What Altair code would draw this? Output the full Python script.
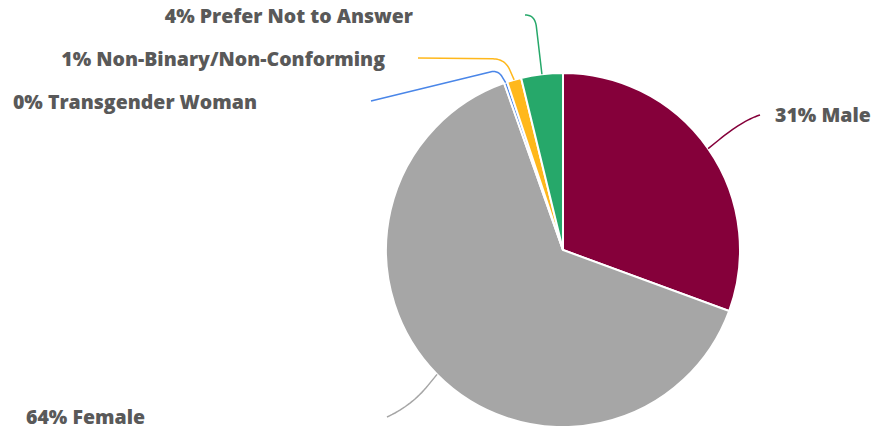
import math
import altair as alt
import pandas as pd

# ---- data ----
categories = ["Male", "Female", "Transgender Woman", "Non-Binary/Non-Conforming", "Prefer Not to Answer"]
values = [30.6, 64.0, 0.3, 1.3, 3.8]
pct_labels = ["31%", "64%", "0%", "1%", "4%"]
colors = ["#85003A", "#A6A6A6", "#4A86E8", "#FFB81C", "#26A86A"]

# ---- layout (page pixel coordinates) ----
OFF = 8
CX, CY, R = 563, 250, 177
label_pos = [(775, 116, "left"), (145, 418, "right"), (257, 103, "right"), (385, 60, "right"), (413, 17, "right")]
elbows = [(742, 121, 30), (412, 405, 25), (498, 70, 8), (505, 59, 12), (535, 15, 12)]
line_ends = [(760, 115), (387, 417), (371, 101), (418, 58), (525, 15)]

total = sum(values)
arc_df = pd.DataFrame({"category": categories, "value": values, "order": list(range(len(values)))})

# leader lines from slice mid-angles
rows = []
cum = 0.0
for i, (cat, v) in enumerate(zip(categories, values)):
    mid = (cum + v / 2) / total * 2 * math.pi
    cum += v
    S = (CX + R * math.sin(mid), CY - R * math.cos(mid))
    px, py, r = elbows[i]
    E = line_ends[i]
    d1 = math.hypot(S[0] - px, S[1] - py)
    d2 = math.hypot(E[0] - px, E[1] - py)
    r1 = min(r, d1 * 0.95)
    r2 = min(r, d2 * 0.95)
    A = (px + (S[0] - px) / d1 * r1, py + (S[1] - py) / d1 * r1)
    B = (px + (E[0] - px) / d2 * r2, py + (E[1] - py) / d2 * r2)
    pts = [S, A]
    n = 16
    for k in range(1, n + 1):
        t = k / n
        x = (1 - t) ** 2 * A[0] + 2 * (1 - t) * t * px + t ** 2 * B[0]
        y = (1 - t) ** 2 * A[1] + 2 * (1 - t) * t * py + t ** 2 * B[1]
        pts.append((x, y))
    pts.append(E)
    for j, (x, y) in enumerate(pts):
        rows.append({"category": cat, "i": j, "x": x - OFF, "y": y - OFF})
line_df = pd.DataFrame(rows)

text_df = pd.DataFrame({
    "text": [f"{p} {c}" for p, c in zip(pct_labels, categories)],
    "x": [p[0] - OFF for p in label_pos],
    "y": [p[1] - OFF for p in label_pos],
    "align": [p[2] for p in label_pos],
})

color_scale = alt.Scale(domain=categories, range=colors)

arcs = alt.Chart(arc_df).mark_arc(radius=R, stroke="white", strokeWidth=2).encode(
    theta=alt.Theta("value:Q", stack=True),
    order=alt.Order("order:Q"),
    color=alt.Color("category:N", scale=color_scale, legend=None),
    x=alt.value(CX - OFF),
    y=alt.value(CY - OFF),
)

lines = alt.Chart(line_df).mark_line(strokeWidth=1.5).encode(
    x=alt.X("x:Q", scale=None),
    y=alt.Y("y:Q", scale=None),
    order=alt.Order("i:Q"),
    detail="category:N",
    color=alt.Color("category:N", scale=color_scale, legend=None),
)

text_style = dict(font="Open Sans", fontSize=19.5, fontWeight=800, color="#595959", baseline="middle")
text_left = alt.Chart(text_df[text_df["align"] == "left"]).mark_text(align="left", **text_style).encode(
    x=alt.X("x:Q", scale=None), y=alt.Y("y:Q", scale=None), text="text:N"
)
text_right = alt.Chart(text_df[text_df["align"] == "right"]).mark_text(align="right", **text_style).encode(
    x=alt.X("x:Q", scale=None), y=alt.Y("y:Q", scale=None), text="text:N"
)

chart = alt.layer(arcs, lines, text_left, text_right).properties(
    width=863, height=418, padding=0, autosize=alt.AutoSizeParams(type="none")
).configure_view(stroke=None)

chart.save("out.html", embed_options={"renderer": "svg", "actions": False})
